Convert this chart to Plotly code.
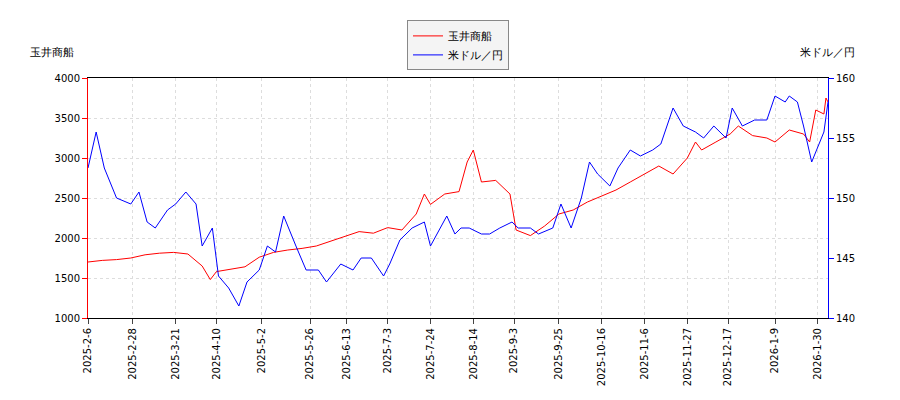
import pandas as pd
import plotly.graph_objects as go

red_dates = ['2025-02-06', '2025-02-13', '2025-02-20', '2025-02-27', '2025-03-06', '2025-03-13',
             '2025-03-20', '2025-03-27', '2025-04-03', '2025-04-07', '2025-04-10', '2025-04-17',
             '2025-04-24', '2025-05-01', '2025-05-08', '2025-05-15', '2025-05-22', '2025-05-29',
             '2025-06-05', '2025-06-12', '2025-06-19', '2025-06-26', '2025-07-03', '2025-07-10',
             '2025-07-17', '2025-07-21', '2025-07-24', '2025-07-31', '2025-08-07', '2025-08-11',
             '2025-08-14', '2025-08-18', '2025-08-25', '2025-09-01', '2025-09-04', '2025-09-11',
             '2025-09-18', '2025-09-25', '2025-10-02', '2025-10-09', '2025-10-16', '2025-10-23',
             '2025-10-30', '2025-11-06', '2025-11-13', '2025-11-20', '2025-11-27', '2025-12-01',
             '2025-12-04', '2025-12-11', '2025-12-18', '2025-12-22', '2025-12-29', '2026-01-05',
             '2026-01-09', '2026-01-16', '2026-01-23', '2026-01-26', '2026-01-29', '2026-02-02',
             '2026-02-03', '2026-02-04']
red_vals = [1700, 1720, 1730, 1750, 1790, 1810, 1820, 1800, 1650, 1480, 1580, 1610,
            1640, 1760, 1820, 1850, 1870, 1900, 1960, 2020, 2080, 2060, 2130, 2100,
            2300, 2550, 2420, 2550, 2580, 2950, 3100, 2700, 2720, 2550, 2100, 2030,
            2150, 2300, 2350, 2450, 2520, 2600, 2700, 2800, 2900, 2800, 3000, 3200,
            3100, 3200, 3300, 3400, 3280, 3250, 3200, 3350, 3300, 3200, 3600, 3550,
            3750, 3700]

blue_dates = ['2025-02-06', '2025-02-10', '2025-02-14', '2025-02-20', '2025-02-27', '2025-03-03',
              '2025-03-07', '2025-03-11', '2025-03-17', '2025-03-21', '2025-03-26', '2025-03-31',
              '2025-04-03', '2025-04-08', '2025-04-11', '2025-04-16', '2025-04-21', '2025-04-25',
              '2025-05-01', '2025-05-05', '2025-05-09', '2025-05-13', '2025-05-19', '2025-05-24',
              '2025-05-30', '2025-06-03', '2025-06-10', '2025-06-16', '2025-06-20', '2025-06-25',
              '2025-07-01', '2025-07-04', '2025-07-09', '2025-07-15', '2025-07-21', '2025-07-24',
              '2025-08-01', '2025-08-05', '2025-08-08', '2025-08-12', '2025-08-18', '2025-08-22',
              '2025-08-27', '2025-09-02', '2025-09-05', '2025-09-11', '2025-09-15', '2025-09-22',
              '2025-09-26', '2025-10-01', '2025-10-06', '2025-10-10', '2025-10-14', '2025-10-20',
              '2025-10-24', '2025-10-30', '2025-11-04', '2025-11-10', '2025-11-14', '2025-11-20',
              '2025-11-25', '2025-12-01', '2025-12-05', '2025-12-10', '2025-12-16', '2025-12-19',
              '2025-12-24', '2025-12-30', '2026-01-05', '2026-01-09', '2026-01-14', '2026-01-16',
              '2026-01-20', '2026-01-23', '2026-01-27', '2026-02-02', '2026-02-04']
blue_vals = [152.5, 155.5, 152.5, 150, 149.5, 150.5, 148, 147.5, 149, 149.5, 150.5, 149.5,
             146, 147.5, 143.5, 142.5, 141, 143, 144, 146, 145.5, 148.5, 146, 144,
             144, 143, 144.5, 144, 145, 145, 143.5, 144.5, 146.5, 147.5, 148, 146,
             148.5, 147, 147.5, 147.5, 147, 147, 147.5, 148, 147.5, 147.5, 147, 147.5,
             149.5, 147.5, 150, 153, 152, 151, 152.5, 154, 153.5, 154, 154.5, 157.5,
             156, 155.5, 155, 156, 155, 157.5, 156, 156.5, 156.5, 158.5, 158, 158.5,
             158, 156, 153, 155.5, 158]

tick_dates = ['2025-02-06', '2025-02-28', '2025-03-21', '2025-04-10', '2025-05-02', '2025-05-26',
              '2025-06-13', '2025-07-03', '2025-07-24', '2025-08-14', '2025-09-03', '2025-09-25',
              '2025-10-16', '2025-11-06', '2025-11-27', '2025-12-17', '2026-01-09', '2026-01-30']
tick_text = [f"{d.year}-{d.month}-{d.day}" for d in pd.to_datetime(tick_dates)]

font = dict(family="DejaVu Sans", size=10, color="#000")

fig = go.Figure()
fig.add_trace(go.Scatter(x=red_dates, y=red_vals, name="玉井商船", mode='lines',
                         line=dict(color='red', width=1)))
fig.add_trace(go.Scatter(x=blue_dates, y=blue_vals, name="米ドル／円", mode='lines',
                         line=dict(color='blue', width=1), yaxis='y2'))
fig.update_layout(
    width=900, height=400, margin=dict(l=80, r=80, t=70, b=90, autoexpand=False),
    plot_bgcolor='white', paper_bgcolor='white', font=font,
    legend=dict(x=0.5, y=1.24, xanchor='center', yanchor='top', bordercolor='#888',
                borderwidth=1, bgcolor='#f4f4f4', font=dict(size=11)),
    xaxis=dict(range=['2025-02-06', '2026-02-04'], tickvals=tick_dates, ticktext=tick_text,
               tickangle=-90, showgrid=True, gridcolor='#ddd', griddash='dot',
               showline=True, linecolor='#000', ticks='outside', mirror=True),
    yaxis=dict(range=[1000, 4000], dtick=500, showgrid=True, gridcolor='#ddd', griddash='dot',
               showline=True, linecolor='red', ticks='outside', tickcolor='red'),
    yaxis2=dict(range=[140, 160], dtick=5, overlaying='y', side='right', showgrid=False,
                showline=True, linecolor='blue', ticks='outside', tickcolor='blue'),
    annotations=[
        dict(text="玉井商船", x=0, xref='paper', xanchor='right', xshift=-12, y=1.07, yref='paper',
             yanchor='bottom', showarrow=False, font=dict(size=11)),
        dict(text="米ドル／円", x=1, xref='paper', xanchor='left', xshift=-30, y=1.07, yref='paper',
             yanchor='bottom', showarrow=False, font=dict(size=11)),
    ],
)
fig.write_html("out.html")
